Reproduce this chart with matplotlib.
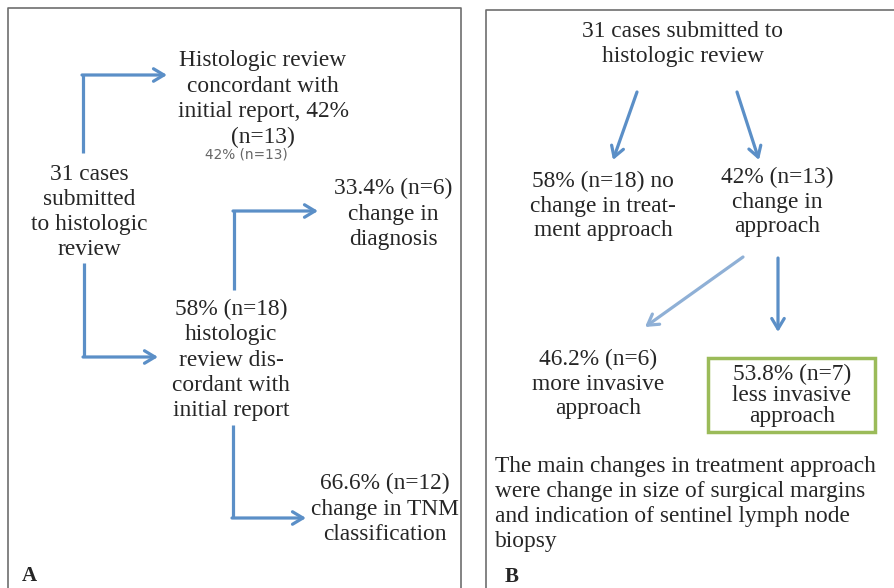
import matplotlib.pyplot as plt
from matplotlib.patches import Rectangle

# panel A texts
a_labels = ["Histologic review\nconcordant with\ninitial report, 42%\n(n=13)",
            "31 cases\nsubmitted\nto histologic\nreview",
            "33.4% (n=6)\nchange in\ndiagnosis",
            "58% (n=18)\nhistologic\nreview dis-\ncordant with\ninitial report",
            "66.6% (n=12)\nchange in TNM\nclassification"]
a_note = "42% (n=13)"

# panel B texts
b_labels = ["31 cases submitted to\nhistologic review",
            "58% (n=18) no\nchange in treat-\nment approach",
            "42% (n=13)\nchange in\napproach",
            "46.2% (n=6)\nmore invasive\napproach"]
b_boxed = "53.8% (n=7)\nless invasive\napproach"
b_para = ("The main changes in treatment approach\n"
          "were change in size of surgical margins\n"
          "and indication of sentinel lymph node\n"
          "biopsy")
panel_tags = ["A", "B"]

# layout (pixels)
a_pos = [(263, 99), (89, 212), (393, 214), (231, 360), (385, 509)]
b_pos = [(683, 44), (603, 206), (777, 202), (598, 384)]

a_elbows = [[(83, 153), (83, 75), (167, 75)],
            [(84, 263), (84, 357), (158, 357)],
            [(234, 290), (234, 211), (318, 211)],
            [(233, 425), (233, 518), (306, 518)]]
b_arrows = [((637, 92), (613, 160), '#5b8fc7'),
            ((737, 92), (759, 160), '#5b8fc7'),
            ((743, 257), (645, 327), '#8fb0d6'),
            ((778, 258), (778, 332), '#5b8fc7')]

plt.rcParams['font.family'] = ['Liberation Serif', 'DejaVu Serif']
txt = '#262626'
blue = '#5b8fc7'
fs = 16.8

fig = plt.figure(figsize=(8.94, 5.88), dpi=100)
ax = fig.add_axes([0, 0, 1, 1])
ax.set_xlim(0, 894)
ax.set_ylim(588, 0)
ax.axis('off')

# panel frames
ax.plot([8, 8, 461, 461], [590, 8, 8, 590], color='#6e6e6e', lw=1.2)
ax.plot([486, 486, 896], [590, 10, 10], color='#6e6e6e', lw=1.2)

arrow_head = '->,head_length=0.75,head_width=0.45'

for (x, y), s in zip(a_pos, a_labels):
    ax.text(x, y, s, ha='center', va='center', fontsize=fs, color=txt, linespacing=1.27)
ax.text(246, 154, a_note, ha='center', va='center', fontsize=9.8, color='#666666',
        family=['DejaVu Sans'])

for pts in a_elbows:
    (x0, y0), (x1, y1), (x2, y2) = pts
    ax.plot([x0, x1], [y0, y1], color=blue, lw=2.3, solid_capstyle='butt')
    ax.annotate('', xy=(x2, y2), xytext=(x1 - 1, y1),
                arrowprops=dict(arrowstyle=arrow_head, color=blue, lw=2.3,
                                shrinkA=0, shrinkB=0))

ls_b = [1.25, 1.2, 1.2, 1.2]
for (x, y), s, ls in zip(b_pos, b_labels, ls_b):
    ax.text(x, y, s, ha='center', va='center', fontsize=fs, color=txt, linespacing=ls)

for start, end, c in b_arrows:
    ax.annotate('', xy=end, xytext=start,
                arrowprops=dict(arrowstyle=arrow_head, color=c, lw=2.3,
                                shrinkA=0, shrinkB=0))

ax.add_patch(Rectangle((708, 358), 167, 74, fill=False, edgecolor='#9bbb59', lw=2.5))
ax.text(792, 395, b_boxed, ha='center', va='center', fontsize=fs, color=txt, linespacing=1.0)

ax.text(495, 504, b_para, ha='left', va='center', fontsize=fs, color=txt, linespacing=1.25)

ax.text(22, 576, panel_tags[0], ha='left', va='center', fontsize=15, fontweight='bold', color=txt)
ax.text(505, 577, panel_tags[1], ha='left', va='center', fontsize=15, fontweight='bold', color=txt)

fig.savefig('out.png', dpi=100)
